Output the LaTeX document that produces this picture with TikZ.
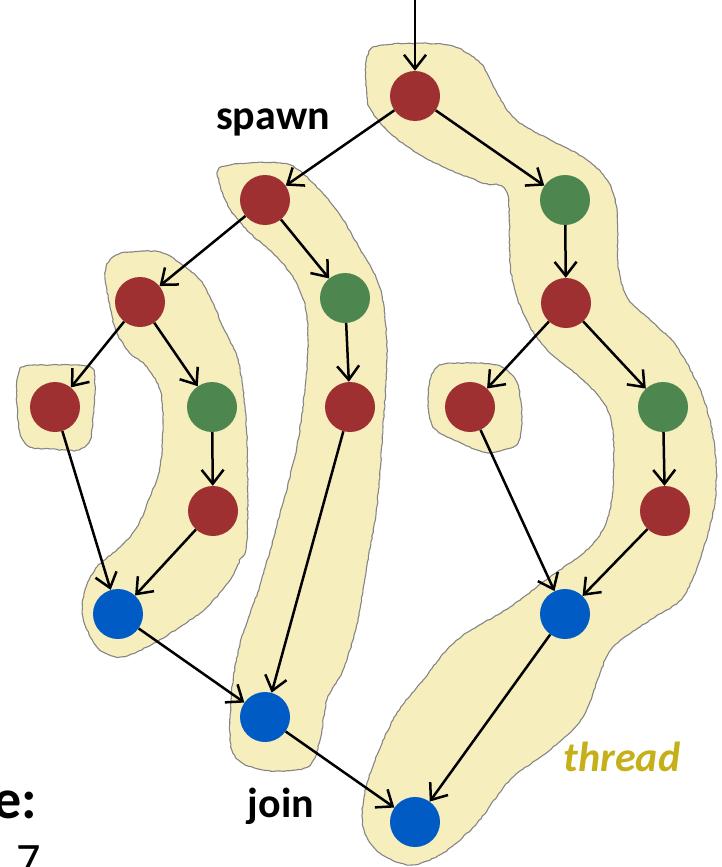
\documentclass[tikz,border=0pt]{standalone}
\usepackage{fontspec}
\setmainfont{Carlito}
\usetikzlibrary{arrows.meta,decorations.pathmorphing}

\definecolor{strandred}{HTML}{9E3031}
\definecolor{strandgreen}{HTML}{4E8650}
\definecolor{strandblue}{HTML}{005BC5}
\definecolor{blobfill}{HTML}{F7EEBE}
\definecolor{blobline}{HTML}{858585}
\definecolor{threadtext}{HTML}{C6B01A}

\tikzset{
  vertex/.style={circle, minimum size=50pt, inner sep=0pt, draw=none},
  rv/.style={vertex, fill=strandred},
  gv/.style={vertex, fill=strandgreen},
  bv/.style={vertex, fill=strandblue},
  arr/.style={line width=2.5pt, -{Straight Barb[length=14pt,width=22pt,line width=2.5pt]}},
  blob/.style={fill=blobfill, draw=blobline, line width=1.1pt,
    decoration={random steps, segment length=3pt, amplitude=0.5pt}, decorate},
  lbl/.style={font=\bfseries\fontsize{42}{46}\selectfont, inner sep=0pt}
}

\begin{document}
\begin{tikzpicture}[x=1pt,y=-1pt]
\useasboundingbox (0,0) rectangle (721,867);
\clip (0,0) rectangle (721,867);

% thread regions
\path[blob] plot[smooth cycle, tension=0.55] coordinates {
  (367,57) (383,45) (447,45) (480,63) (497,93) (513,117) (537,133) (583,157)
  (607,180) (617,210) (618,263) (627,297) (650,320) (677,347) (703,397)
  (715,450) (715,500) (703,550) (683,597) (650,620) (613,647) (600,673)
  (583,717) (550,750) (510,780) (477,823) (443,853) (410,865) (380,853)
  (363,827) (367,783) (393,720) (423,680) (457,640) (510,607) (550,577)
  (590,547) (607,520) (613,487) (613,433) (605,405) (583,380) (550,353)
  (530,327) (517,297) (510,263) (507,193) (483,183) (450,170) (417,153)
  (390,133) (373,113) (367,97)};

\path[blob] plot[smooth cycle, tension=0.55] coordinates {
  (220,168) (250,163) (290,165) (320,190) (340,215) (360,249) (380,288)
  (387,348) (383,427) (377,506) (367,565) (357,624) (343,670) (327,700)
  (320,740) (307,767) (263,770) (233,753) (231,700) (240,644) (260,585)
  (277,525) (297,446) (307,367) (307,316) (297,284) (277,257) (250,233)
  (230,209) (220,185)};

\path[blob] plot[smooth cycle, tension=0.55] coordinates {
  (105,273) (113,257) (130,252) (160,252) (180,263) (200,280) (213,303)
  (223,327) (237,357) (243,390) (247,440) (247,540) (240,560) (230,580)
  (207,607) (180,627) (147,647) (120,657) (97,647) (83,617) (85,590)
  (97,567) (120,547) (137,527) (150,497) (160,467) (163,423) (160,390)
  (147,367) (130,353) (117,333) (110,307)};

\path[blob] plot[smooth cycle, tension=0.5] coordinates {
  (17,380) (23,367) (50,365) (90,367) (95,385) (93,417) (90,440)
  (77,450) (50,449) (30,447) (20,433) (17,405)};

\path[blob] plot[smooth cycle, tension=0.5] coordinates {
  (430,380) (440,365) (470,363) (500,366) (517,383) (522,417) (518,443)
  (500,451) (483,452) (450,438) (433,427) (428,405)};

% vertices
\node[rv] (a)  at (415,96)  {};
\node[gv] (b)  at (565,200) {};
\node[rv] (c)  at (566,303) {};
\node[gv] (d)  at (663,407) {};
\node[rv] (e)  at (665,511) {};
\node[rv] (h)  at (470,407) {};
\node[bv] (f)  at (565,614) {};
\node[bv] (g)  at (415,822) {};

\node[rv] (s1) at (265,200) {};
\node[gv] (s2) at (345,298) {};
\node[rv] (s3) at (350,407) {};
\node[bv] (s4) at (265,717) {};

\node[rv] (l1) at (140,302) {};
\node[gv] (l2) at (212,407) {};
\node[rv] (l3) at (213,511) {};
\node[bv] (l4) at (118,614) {};
\node[rv] (l0) at (55,407)  {};

% edges
\coordinate (entry) at (415,0);
\draw[arr] (entry) -- (a);
\draw[arr] (a) -- (b);
\draw[arr] (a) -- (s1);
\draw[arr] (b) -- (c);
\draw[arr] (c) -- (h);
\draw[arr] (c) -- (d);
\draw[arr] (d) -- (e);
\draw[arr] (e) -- (f);
\draw[arr] (h) -- (f);
\draw[arr] (f) -- (g);

\draw[arr] (s1) -- (l1);
\draw[arr] (s1) -- (s2);
\draw[arr] (s2) -- (s3);
\draw[arr] (s3) -- (s4);

\draw[arr] (l1) -- (l0);
\draw[arr] (l1) -- (l2);
\draw[arr] (l2) -- (l3);
\draw[arr] (l3) -- (l4);
\draw[arr] (l0) -- (l4);
\draw[arr] (l4) -- (s4);
\draw[arr] (s4) -- (g);

% labels
\node[lbl] (spawn) at (273,122) {spawn};
\node[lbl] (join)  at (281,806) {join};
\node[lbl, font=\bfseries\itshape\fontsize{42}{46}\selectfont, text=threadtext]
  (thread) at (622,757) {thread};
\node[font=\bfseries\fontsize{56}{60}\selectfont, inner sep=0pt, anchor=base east]
  (head) at (37,818) {e:};
\node[font=\fontsize{48}{52}\selectfont, inner sep=0pt, anchor=north west]
  (count) at (16,845) {7};
\end{tikzpicture}
\end{document}
